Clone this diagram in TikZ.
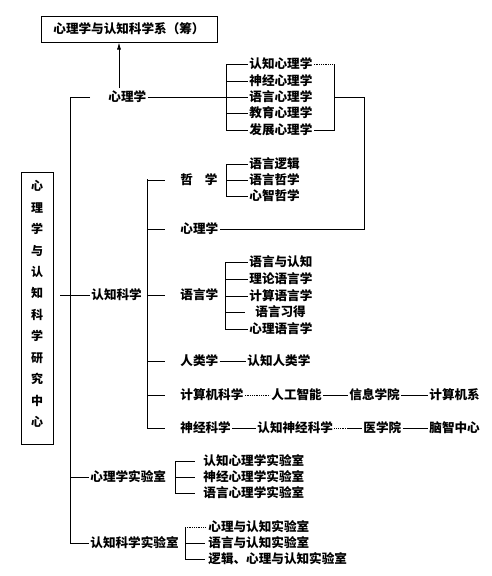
\documentclass[tikz,border=0pt]{standalone}
\usepackage{fontspec}
\setmainfont{Noto Sans CJK SC}
\usetikzlibrary{arrows.meta}
\begin{document}
\begin{tikzpicture}[x=1pt,y=-1pt,
  t/.style={inner sep=1pt,anchor=west,font=\fontsize{12.6}{13}\selectfont\bfseries},
  every path/.style={line width=0.8pt},
  dot/.style={densely dotted}]
\useasboundingbox (0,0) rectangle (491,576);
% top box
\node[draw,line width=1pt,minimum width=176pt,minimum height=26pt,inner sep=0pt,font=\fontsize{12.6}{13}\selectfont\bfseries] (top) at (129,29) {心理学与认知科学系（筹）};
% left vertical box
\node[draw,line width=1pt,minimum width=32pt,minimum height=272pt,inner sep=0pt] (vbox) at (37,308) {};
\node[inner sep=0pt,align=center,font=\fontsize{12}{21.45}\selectfont\bfseries] (vtext) at (37,304) {心\\理\\学\\与\\认\\知\\科\\学\\研\\究\\中\\心};
% trunk
\coordinate (trT) at (70,97);
\coordinate (trB) at (70,543);
\coordinate (trS) at (90,97);
\draw (trS) -- (trT) -- (trB);
% psychology (top)
\node[t] (psyA) at (107,97) {心理学};
\coordinate (arS) at (119,88);
\draw[-{Latex[length=7pt,width=4pt]}] (arS) -- (arS |- top.south);
\coordinate (pbx) at (226,97);
\draw (psyA.east) -- (pbx);
\node[t] (p1) at (248,64) {认知心理学};
\node[t] (p2) at (248,81) {神经心理学};
\node[t] (p3) at (248,97) {语言心理学};
\node[t] (p4) at (248,113) {教育心理学};
\node[t] (p5) at (248,130) {发展心理学};
\coordinate (pbT) at (226,64);
\coordinate (pbB) at (226,130);
\draw (pbT) -- (pbB);
\foreach \i in {1,...,5} \draw (pbT |- p\i.west) -- (p\i.west);
\coordinate (rbT) at (334,64);
\coordinate (rbB) at (334,130);
\coordinate (rbM) at (334,97);
\coordinate (rbR) at (364,97);
\draw[dot] (p1.east) -- (rbT);
\draw (rbT) -- (rbB) -- (p5.east);
% cognitive science
\node[t] (ks) at (90,295) {认知科学};
\coordinate (ksL) at (60,295);
\draw (ksL) -- (ks.west);
\coordinate (kbT) at (147,179);
\coordinate (kbB) at (147,428);
\draw (kbT) -- (kbB);
\node[t] (phil) at (179,180) {哲\hspace{12pt}学};
\node[t] (psyB) at (179,229) {心理学};
\node[t] (ling) at (179,295) {语言学};
\node[t] (anth) at (179,361) {人类学};
\node[t] (comp) at (179,395) {计算机科学};
\node[t] (neur) at (179,428) {神经科学};
\foreach \n in {phil,psyB,ling,anth,comp,neur} \draw (kbT |- \n.west) -- ++(18,0);
\draw (rbM) -- (rbR) -- (rbR |- psyB.east) -- (psyB.east);
% philosophy bracket
\node[t] (h1) at (248,164) {语言逻辑};
\node[t] (h2) at (248,180) {语言哲学};
\node[t] (h3) at (248,196) {心智哲学};
\coordinate (hbT) at (226,164);
\coordinate (hbB) at (226,196);
\draw (hbT) -- (hbB);
\foreach \i in {1,2,3} \draw (hbT |- h\i.west) -- (h\i.west);
% linguistics bracket
\node[t] (l1) at (248,262) {语言与认知};
\node[t] (l2) at (248,279) {理论语言学};
\node[t] (l3) at (248,296) {计算语言学};
\node[t] (l4) at (254,312) {语言习得};
\node[t] (l5) at (248,329) {心理语言学};
\coordinate (lbT) at (225,262);
\coordinate (lbB) at (225,329);
\draw (lbT) -- (lbB);
\foreach \i in {1,2,3,5} \draw (lbT |- l\i.west) -- (l\i.west);
\draw (lbT |- l4.west) -- ++(20,0);
% anthropology row
\node[t] (anth2) at (246,361) {认知人类学};
\draw (anth.east) -- (anth2.west);
% computer row
\node[t] (c2) at (270,395) {人工智能};
\node[t] (c3) at (348,395) {信息学院};
\node[t] (c4) at (428,395) {计算机系};
\draw[dot] (comp.east) -- (c2.west);
\draw (c2.east) -- (c3.west);
\draw (c3.east) -- (c4.west);
% neuro row
\node[t] (n2) at (256,428) {认知神经科学};
\node[t] (n3) at (362,428) {医学院};
\node[t] (n4) at (428,428) {脑智中心};
\draw (neur.east) -- (n2.west);
\draw[dot] (n2.east) -- ++(14,0) coordinate (nm);
\draw (nm) -- (n3.west);
\draw (n3.east) -- (n4.west);
% labs
\node[t] (lab1) at (89,477) {心理学实验室};
\draw (trT |- lab1.west) -- (lab1.west);
\node[t] (a1) at (202,461) {认知心理学实验室};
\node[t] (a2) at (202,477) {神经心理学实验室};
\node[t] (a3) at (202,493) {语言心理学实验室};
\coordinate (abT) at (175,461);
\coordinate (abB) at (175,493);
\draw (abT) -- (abB);
\foreach \i in {1,2,3} \draw (abT |- a\i.west) -- ++(20,0);
\node[t] (lab2) at (89,543) {认知科学实验室};
\draw (trB) -- (lab2.west);
\node[t] (b1) at (207,527) {心理与认知实验室};
\node[t] (b2) at (207,543) {语言与认知实验室};
\node[t] (b3) at (207,559) {逻辑、心理与认知实验室};
\coordinate (bbT) at (185,527);
\coordinate (bbB) at (185,559);
\draw (bbT) -- (bbB);
\draw[dot] (bbT) -- ++(20,0);
\foreach \i in {2,3} \draw (bbT |- b\i.west) -- ++(20,0);
\end{tikzpicture}
\end{document}
